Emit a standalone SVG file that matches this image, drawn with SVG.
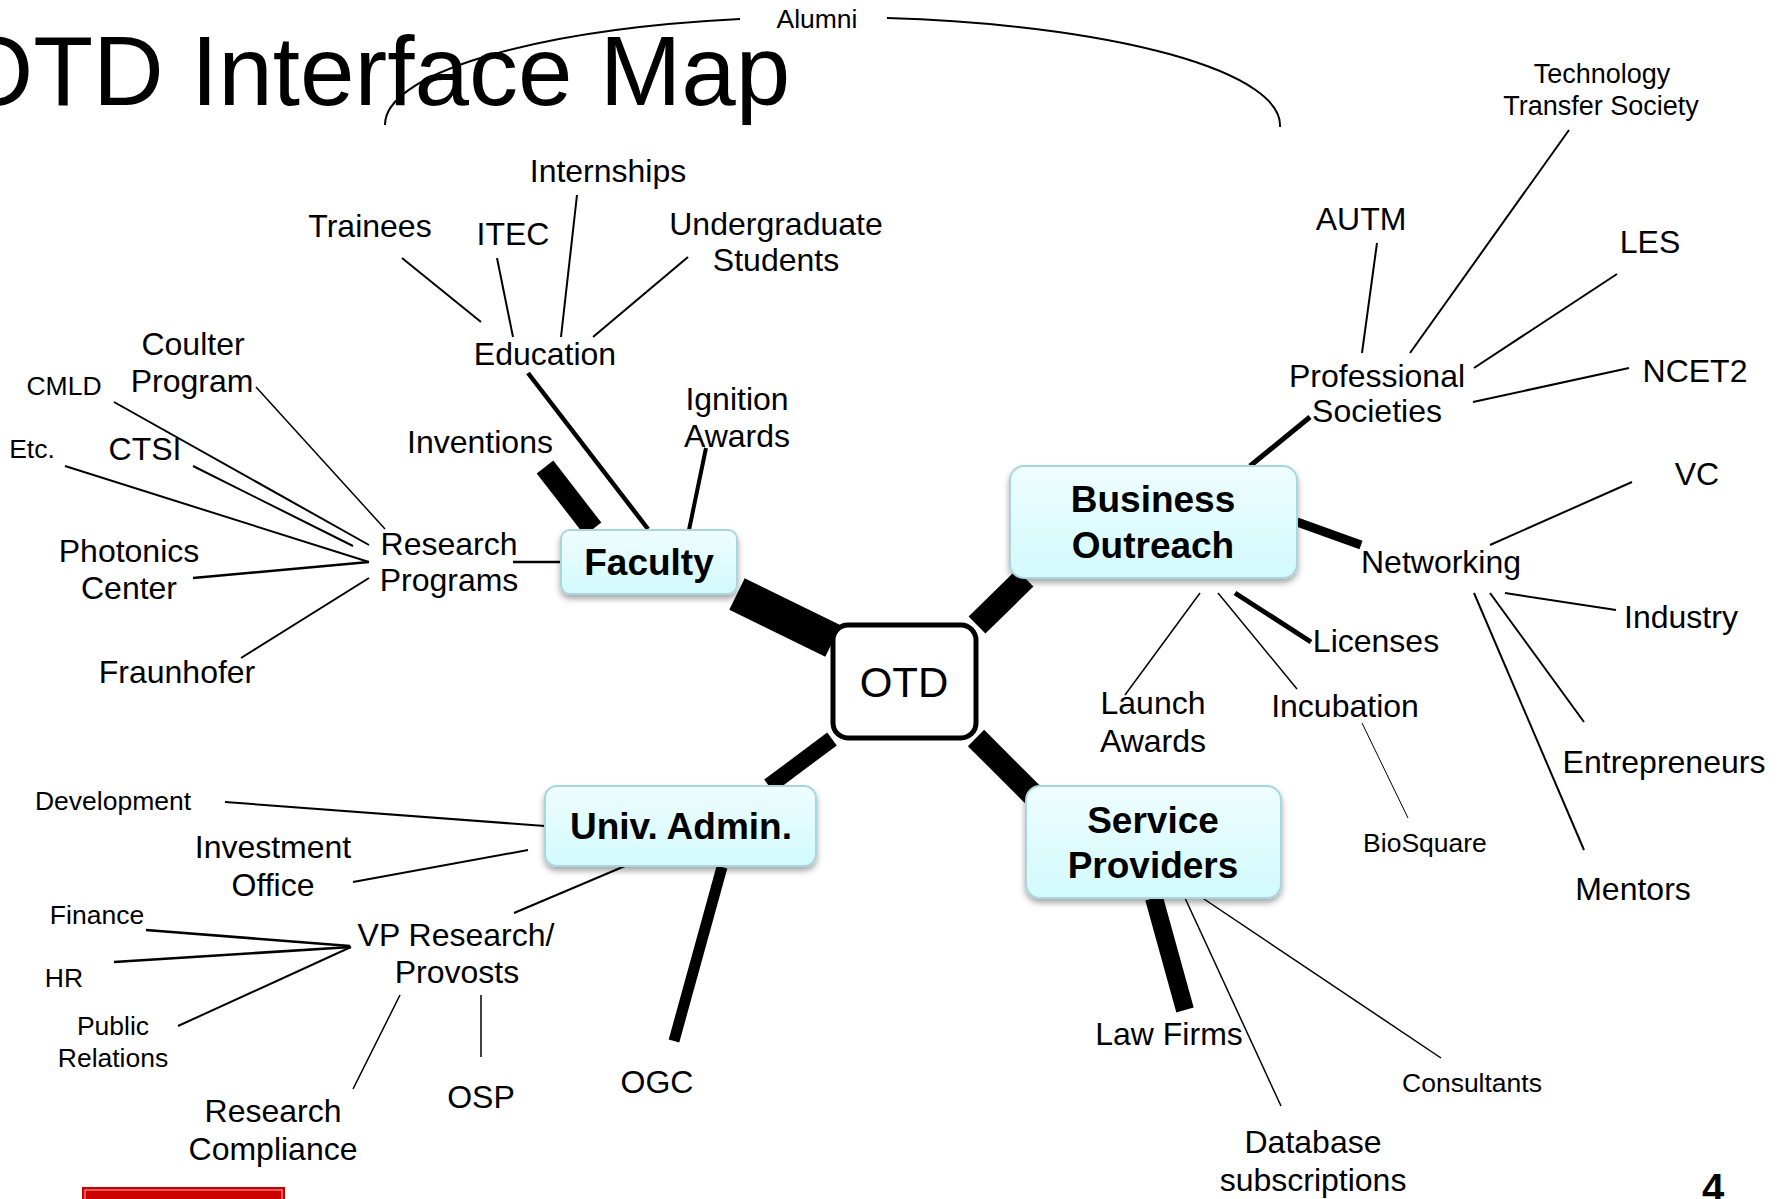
<svg xmlns="http://www.w3.org/2000/svg" width="1783" height="1199" viewBox="0 0 1783 1199">
<defs>
<linearGradient id="boxfill" x1="0" y1="0" x2="0" y2="1"><stop offset="0" stop-color="#effdfd"/><stop offset="1" stop-color="#d2fafc"/></linearGradient>
<filter id="shadow" x="-10%" y="-10%" width="120%" height="140%"><feDropShadow dx="0" dy="4" stdDeviation="3" flood-color="#000" flood-opacity="0.35"/></filter>
</defs>
<style>
text{font-family:"Liberation Sans",Arial,sans-serif;fill:#000}
.l{font-size:32px;text-anchor:middle}
.s{font-size:26.5px;text-anchor:middle}
.b{font-size:37px;font-weight:bold;text-anchor:middle}
.box{fill:url(#boxfill);stroke:#a9d6db;stroke-width:2;filter:url(#shadow)}
line{stroke:#000;stroke-linecap:butt}
.t1{stroke-width:1.5}
.t2{stroke-width:2}
.t3{stroke-width:2.6}
</style>
<rect width="1783" height="1199" fill="#fff"/>
<text x="-43" y="105" style="font-size:98px">OTD Interface Map</text>
<g id="connectors">
<path d="M385,125 A447.5,108 0 0 1 740,19" fill="none" stroke="#000" stroke-width="2"/>
<path d="M887,18 A447.5,108 0 0 1 1280,127" fill="none" stroke="#000" stroke-width="2"/>
<line class="t2" x1="402" y1="258" x2="481" y2="322"/>
<line class="t2" x1="497" y1="258" x2="513" y2="337"/>
<line class="t2" x1="577" y1="195" x2="561" y2="337"/>
<line class="t2" x1="688" y1="257" x2="593" y2="337"/>
<line stroke-width="4.5" x1="528" y1="373" x2="648" y2="529"/>
<line class="t1" x1="256" y1="387" x2="385" y2="529"/>
<line class="t2" x1="114" y1="402" x2="369" y2="545"/>
<line class="t2" x1="193" y1="466" x2="353" y2="546"/>
<line class="t2" x1="65" y1="466" x2="369" y2="562"/>
<line class="t3" x1="193" y1="578" x2="369" y2="562"/>
<line class="t2" x1="241" y1="658" x2="369" y2="578"/>
<line class="t3" x1="513" y1="562" x2="561" y2="562"/>
<line stroke-width="21" x1="545" y1="467" x2="593" y2="529"/>
<line stroke-width="4" x1="706" y1="448" x2="689" y2="530"/>
<line stroke-width="35" x1="737" y1="594" x2="833" y2="641"/>
<line stroke-width="24" x1="977" y1="625" x2="1025" y2="578"/>
<line stroke-width="16" x1="832" y1="739" x2="769" y2="786"/>
<line stroke-width="23" x1="976" y1="738" x2="1040" y2="802"/>
<line class="t2" x1="1377" y1="243" x2="1362" y2="353"/>
<line class="t2" x1="1569" y1="130" x2="1410" y2="353"/>
<line class="t2" x1="1617" y1="274" x2="1474" y2="368"/>
<line class="t2" x1="1629" y1="368" x2="1473" y2="402"/>
<line stroke-width="5" x1="1310" y1="417" x2="1250" y2="466"/>
<line stroke-width="9" x1="1297" y1="522" x2="1361" y2="545"/>
<line class="t2" x1="1632" y1="482" x2="1490" y2="545"/>
<line class="t2" x1="1505" y1="593" x2="1616" y2="610"/>
<line class="t2" x1="1490" y1="593" x2="1584" y2="722"/>
<line class="t2" x1="1474" y1="593" x2="1584" y2="850"/>
<line stroke-width="5" x1="1235" y1="593" x2="1311" y2="642"/>
<line class="t1" x1="1200" y1="593" x2="1125" y2="695"/>
<line class="t1" x1="1218" y1="593" x2="1297" y2="689"/>
<line stroke-width="1" x1="1362" y1="723" x2="1408" y2="818"/>
<line stroke-width="18" x1="1154" y1="898" x2="1185" y2="1010"/>
<line class="t1" x1="1185" y1="898" x2="1281" y2="1106"/>
<line class="t1" x1="1201" y1="897" x2="1441" y2="1058"/>
<line class="t2" x1="225" y1="802" x2="545" y2="826"/>
<line class="t2" x1="353" y1="882" x2="528" y2="850"/>
<line class="t2" x1="514" y1="913" x2="625" y2="866"/>
<line class="t3" x1="146" y1="930" x2="350" y2="946"/>
<line class="t3" x1="114" y1="962" x2="351" y2="947"/>
<line class="t2" x1="178" y1="1026" x2="351" y2="947"/>
<line class="t1" x1="400" y1="995" x2="353" y2="1089"/>
<line class="t1" x1="481" y1="995" x2="481" y2="1057"/>
<line stroke-width="11" x1="722" y1="867" x2="674" y2="1041"/>
</g>
<g id="alumni"><text class="s" x="817" y="28">Alumni</text></g>
<g id="internships"><text class="l" x="608" y="182">Internships</text></g>
<g id="trainees"><text class="l" x="370" y="237">Trainees</text></g>
<g id="itec"><text class="l" x="513" y="245">ITEC</text></g>
<g id="undergrad"><text class="l" x="776" y="235">Undergraduate</text><text class="l" x="776" y="271">Students</text></g>
<g id="education"><text class="l" x="545" y="365">Education</text></g>
<g id="coulter"><text class="l" x="193" y="355">Coulter</text><text class="l" x="192" y="392">Program</text></g>
<g id="cmld"><text class="s" x="64" y="395">CMLD</text></g>
<g id="etc"><text class="s" x="32" y="458">Etc.</text></g>
<g id="ctsi"><text class="l" x="145" y="460">CTSI</text></g>
<g id="photonics"><text class="l" x="129" y="562">Photonics</text><text class="l" x="129" y="599">Center</text></g>
<g id="fraunhofer"><text class="l" x="177" y="683">Fraunhofer</text></g>
<g id="research-programs"><text class="l" x="449" y="555">Research</text><text class="l" x="449" y="591">Programs</text></g>
<g id="inventions"><text class="l" x="480" y="453">Inventions</text></g>
<g id="ignition"><text class="l" x="737" y="410">Ignition</text><text class="l" x="737" y="447">Awards</text></g>
<g id="faculty"><rect class="box" x="561" y="530" width="176" height="64" rx="9"/><text class="b" x="649" y="575">Faculty</text></g>
<g id="otd"><rect x="833" y="625" width="143" height="113" rx="15" fill="#fff" stroke="#000" stroke-width="5"/><text class="l" x="904" y="697" style="font-size:42px">OTD</text></g>
<g id="business"><rect class="box" x="1010" y="466" width="287" height="112" rx="14"/><text class="b" x="1153" y="512">Business</text><text class="b" x="1153" y="558">Outreach</text></g>
<g id="service"><rect class="box" x="1026" y="786" width="255" height="112" rx="14"/><text class="b" x="1153" y="833">Service</text><text class="b" x="1153" y="878">Providers</text></g>
<g id="univ"><rect class="box" x="545" y="786" width="271" height="80" rx="12"/><text class="b" x="681" y="839">Univ. Admin.</text></g>
<g id="tts"><text class="s" x="1602" y="83" style="font-size:27px">Technology</text><text class="s" x="1601" y="115" style="font-size:27px">Transfer Society</text></g>
<g id="autm"><text class="l" x="1361" y="230">AUTM</text></g>
<g id="les"><text class="l" x="1650" y="253">LES</text></g>
<g id="ncet2"><text class="l" x="1695" y="382">NCET2</text></g>
<g id="professional"><text class="l" x="1377" y="387">Professional</text><text class="l" x="1377" y="422">Societies</text></g>
<g id="vc"><text class="l" x="1697" y="485">VC</text></g>
<g id="networking"><text class="l" x="1441" y="573">Networking</text></g>
<g id="industry"><text class="l" x="1681" y="628">Industry</text></g>
<g id="licenses"><text class="l" x="1376" y="652">Licenses</text></g>
<g id="launch"><text class="l" x="1153" y="714">Launch</text><text class="l" x="1153" y="752">Awards</text></g>
<g id="incubation"><text class="l" x="1345" y="717">Incubation</text></g>
<g id="entrepreneurs"><text class="l" x="1664" y="773">Entrepreneurs</text></g>
<g id="biosquare"><text class="s" x="1425" y="852">BioSquare</text></g>
<g id="mentors"><text class="l" x="1633" y="900">Mentors</text></g>
<g id="lawfirms"><text class="l" x="1169" y="1045">Law Firms</text></g>
<g id="consultants"><text class="s" x="1472" y="1092">Consultants</text></g>
<g id="database"><text class="l" x="1313" y="1153">Database</text><text class="l" x="1313" y="1191">subscriptions</text></g>
<g id="development"><text class="s" x="113" y="810">Development</text></g>
<g id="investment"><text class="l" x="273" y="858">Investment</text><text class="l" x="273" y="896">Office</text></g>
<g id="vp"><text class="l" x="456" y="946">VP Research/</text><text class="l" x="457" y="983">Provosts</text></g>
<g id="finance"><text class="s" x="97" y="924">Finance</text></g>
<g id="hr"><text class="s" x="64" y="987">HR</text></g>
<g id="public"><text class="s" x="113" y="1035">Public</text><text class="s" x="113" y="1067">Relations</text></g>
<g id="compliance"><text class="l" x="273" y="1122">Research</text><text class="l" x="273" y="1160">Compliance</text></g>
<g id="osp"><text class="l" x="481" y="1108">OSP</text></g>
<g id="ogc"><text class="l" x="657" y="1093">OGC</text></g>
<text x="1713" y="1202" style="font-size:40px;font-weight:bold;text-anchor:middle">4</text>
<rect x="82" y="1187" width="203" height="16" fill="#cc0000"/>
<rect x="85" y="1190" width="197" height="14" fill="none" stroke="#f2b8b8" stroke-width="1"/>
</svg>
